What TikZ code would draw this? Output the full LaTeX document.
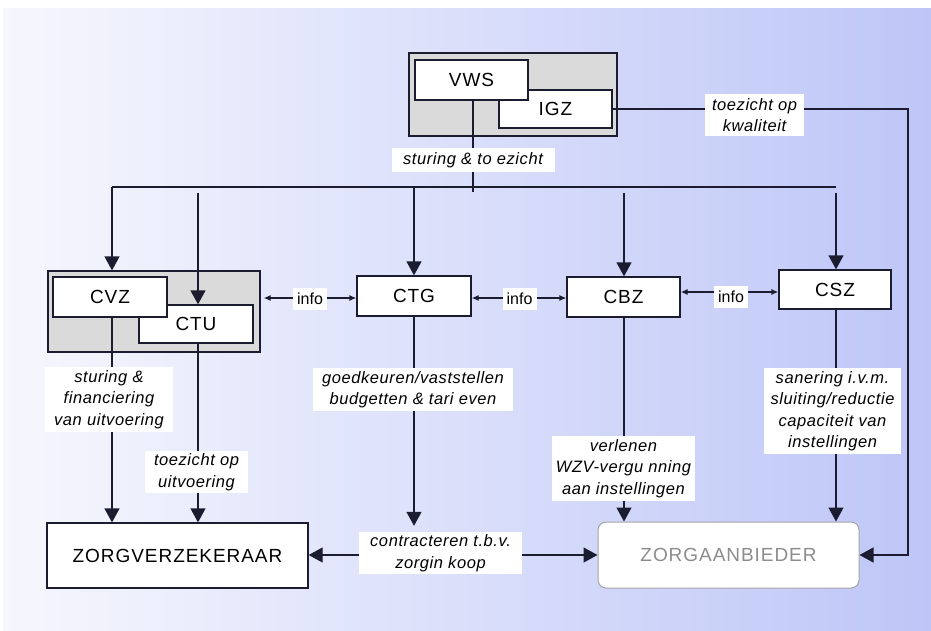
\documentclass[tikz,border=0pt]{standalone}
\usepackage{fontspec}
\setmainfont{Liberation Sans}
\newfontfamily\boxfont[LetterSpace=5]{Liberation Sans}
\newfontfamily\labfont[LetterSpace=3.5]{Liberation Sans}
\usetikzlibrary{arrows.meta,calc}
\definecolor{ln}{RGB}{28,28,48}
\definecolor{bgL}{RGB}{246,247,253}
\definecolor{bgR}{RGB}{190,198,247}
\definecolor{grpgray}{RGB}{218,218,218}
\definecolor{zatext}{RGB}{140,140,140}
\definecolor{zaline}{RGB}{165,165,165}
\pgfdeclarelayer{bg}
\pgfdeclarelayer{lines}
\pgfsetlayers{bg,lines,main}
\tikzset{
  box/.style={draw=ln, line width=1.3pt, fill=white, inner sep=0pt, font=\boxfont\fontsize{19}{22}\selectfont},
  grp/.style={draw=ln, line width=1.3pt, fill=grpgray, inner sep=0pt},
  lab/.style={fill=white, inner sep=0pt, align=center, font=\labfont\fontsize{16.5}{21.5}\selectfont\itshape},
  infolab/.style={fill=white, inner sep=0pt, minimum width=34pt, minimum height=22pt, font=\fontsize{16}{18}\selectfont},
  conn/.style={draw=ln, line width=1.3pt},
  big/.style={conn, -{Triangle[length=14pt,width=15pt]}},
  small/.style={conn, {Latex[length=7pt,width=6pt]}-{Latex[length=7pt,width=6pt]}}
}
\begin{document}
\begin{tikzpicture}[x=1pt,y=-1pt]
\useasboundingbox (0,0) rectangle (931,631);
\begin{pgfonlayer}{bg}
\fill[white] (0,0) rectangle (931,631);
\shade[left color=bgL, right color=bgR] (3,9) rectangle (931,631);
\node[grp, minimum width=208pt, minimum height=83pt] (VWSgrp) at (513,94.5) {};
\node[grp, minimum width=212pt, minimum height=81pt] (CVZgrp) at (154,311.5) {};
\end{pgfonlayer}

% boxes
\node[box, minimum width=113pt, minimum height=38pt] (IGZ) at (555.5,109) {IGZ};
\node[box, minimum width=113pt, minimum height=40pt] (VWS) at (471.5,80) {VWS};
\node[box, minimum width=114pt, minimum height=38pt] (CTU) at (196,324) {CTU};
\node[box, minimum width=114pt, minimum height=40pt] (CVZ) at (110,297) {CVZ};
\node[box, minimum width=114pt, minimum height=40pt] (CTG) at (414,296) {CTG};
\node[box, minimum width=113pt, minimum height=40pt] (CBZ) at (623.5,297) {CBZ};
\node[box, minimum width=112pt, minimum height=39pt] (CSZ) at (835,289.5) {CSZ};
\node[box, minimum width=261pt, minimum height=65pt] (ZV) at (177.5,555.5) {ZORGVERZEKERAAR};
\node[box, draw=zaline, line width=1pt, rounded corners=8pt, text=zatext, minimum width=261pt, minimum height=66pt] (ZA) at (728.5,555) {ZORGAANBIEDER};

% labels
\node[lab, minimum width=163pt, minimum height=24pt] (Lst) at (473,160) {sturing \& to ezicht};
\node[lab, minimum width=99pt, minimum height=42pt] (Lkw) at (754.5,115) {toezicht op\\kwaliteit};
\node[lab, minimum width=128pt, minimum height=65pt] (Lcvz) at (109,399.5) {sturing \&\\financiering\\van uitvoering};
\node[lab, minimum width=103pt, minimum height=42pt] (Lctu) at (196.5,472) {toezicht op\\uitvoering};
\node[lab, minimum width=200pt, minimum height=43pt] (Lctg) at (413,389.5) {goedkeuren/vaststellen\\budgetten \& tari even};
\node[lab, minimum width=163pt, minimum height=42pt] (Lcon) at (440.5,553) {contracteren t.b.v.\\zorgin koop};
\node[lab, minimum width=143pt, minimum height=65pt] (Lcbz) at (623.5,468.5) {verlenen\\WZV-vergu nning\\aan instellingen};
\node[lab, minimum width=137pt, minimum height=86pt] (Lcsz) at (832.5,411) {sanering i.v.m.\\sluiting/reductie\\capaciteit van\\instellingen};
\node[infolab] (I1) at (310,299) {info};
\node[infolab] (I2) at (519.5,299) {info};
\node[infolab] (I3) at (731,297) {info};

\coordinate (busL) at (112,187);
\coordinate (busR) at (836,187);
\coordinate (igzC) at (908,0 |- IGZ.east);
\coordinate (zaC) at (908,0 |- ZA.east);

\begin{pgfonlayer}{lines}
% top bus
\draw[conn] (473,0 |- VWS.south) -- (473,192);
\draw[conn] (busL) -- (busR);
\draw[big] (busL) -- (112,0 |- CVZgrp.north);
\draw[big] (198,193) -- (198,0 |- CTU.north);
\draw[big] (414,187) -- (CTG.north);
\draw[big] (624,193) -- (624,0 |- CBZ.north);
\draw[big] (836,193) -- (836,0 |- CSZ.north);
% info
\draw[small, shorten <=3pt] (CVZgrp.east |- 0,298) -- (CTG.west |- 0,298);
\draw[small] (CTG.east |- 0,298) -- (CBZ.west |- 0,298);
\draw[small] (CBZ.east |- 0,292) -- (CSZ.west |- 0,292);
% downward
\draw[big] (112,0 |- CVZ.south) -- (112,0 |- ZV.north);
\draw[big] (198,0 |- CTU.south) -- (198,0 |- ZV.north);
\draw[big, shorten >=6pt] (414,0 |- CTG.south) -- (414,0 |- Lcon.north);
\draw[big] (624,0 |- CBZ.south) -- (624,0 |- ZA.north);
\draw[big] (836,0 |- CSZ.south) -- (836,0 |- ZA.north);
% contract
\draw[big] (Lcon.west |- 0,555) -- (ZV.east |- 0,555);
\draw[big] (Lcon.east |- 0,555) -- (ZA.west |- 0,555);
% IGZ
\draw[big] (IGZ.east) -- (igzC) -- (zaC) -- (ZA.east);
\end{pgfonlayer}
\end{tikzpicture}
\end{document}
